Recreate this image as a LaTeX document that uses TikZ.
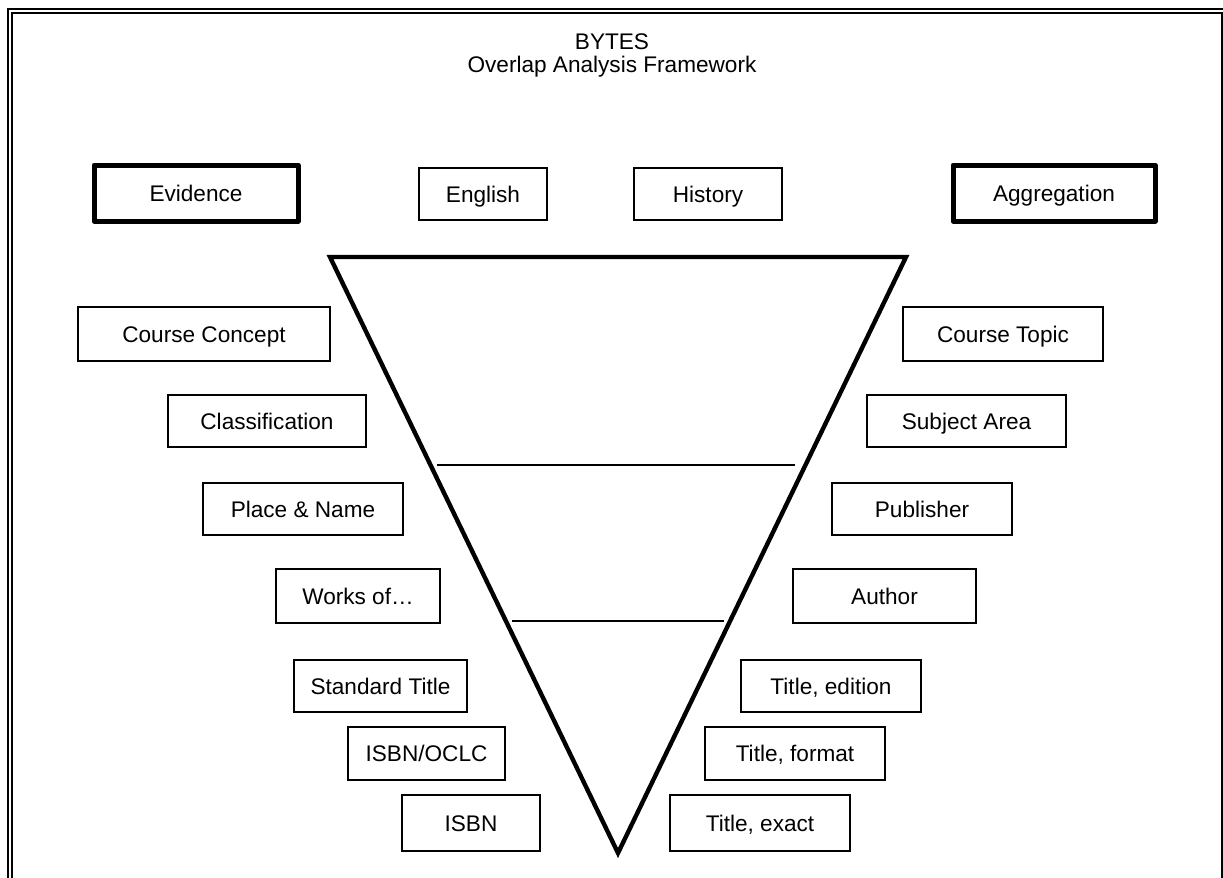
\documentclass[tikz,border=0pt]{standalone}
\usepackage{fontspec}
\setmainfont{Liberation Sans}
\usetikzlibrary{positioning}

\begin{document}
\begin{tikzpicture}[x=0.5pt, y=-0.5pt, font=\fontsize{11.3}{13.5}\selectfont,
    box/.style={draw, line width=1pt, inner sep=0pt, text height=9pt, text depth=0.9pt},
    keybox/.style={box, line width=2.5pt, line join=round}]
  \useasboundingbox (0,0) rectangle (1223,878);
  % Frame
  \draw[line width=1pt] (8,878) -- (8,9) -- (1223,9);
  \draw[line width=1pt] (12,878) -- (12,13) -- (1222,13) -- (1222,878);
  % Title
  \node (bytes) at (612,42) {BYTES};
  \node (subtitle) at (612,67) {Overlap Analysis Framework};
  % Top row
  \node[keybox, minimum width=102pt, minimum height=28pt] (evidence) at (196,193) {Evidence};
  \node[box, minimum width=64pt, minimum height=26pt] (english) at (483,194) {English};
  \node[box, minimum width=74pt, minimum height=26pt] (history) at (708,194) {History};
  \node[keybox, minimum width=101pt, minimum height=28pt] (aggregation) at (1054,193) {Aggregation};
  % Funnel
  \coordinate (ftl) at (330,257);
  \coordinate (ftr) at (906,257);
  \coordinate (ftip) at (618,853);
  \draw[line width=2.2pt] (ftl) -- (ftr) -- (ftip) -- cycle;
  \coordinate (upl) at (437,465);
  \coordinate (upr) at (795,465);
  \coordinate (lol) at (512,621);
  \coordinate (lor) at (724,621);
  \draw[line width=1pt] (upl) -- (upr);
  \draw[line width=1pt] (lol) -- (lor);
  % Evidence side
  \foreach \n/\x/\y/\w/\h/\t in {
      cconcept/204/334/252/54/{Course Concept},
      classif/267/421/198/52/{Classification},
      place/303/509/200/52/{Place \& Name},
      works/358/596/164/54/{Works of…},
      stdtitle/380.5/686/173/52/{Standard Title},
      isbnoclc/426.5/753.5/157/53/{ISBN/OCLC},
      isbn/471/823/138/56/{ISBN}} {
    \node[box, minimum width=\w*0.5pt, minimum height=\h*0.5pt] (\n) at (\x,\y) {\t};
  }
  % Aggregation side
  \foreach \n/\x/\y/\w/\h/\t in {
      ctopic/1003/334/200/54/{Course Topic},
      subject/966.5/421/199/52/{Subject Area},
      publisher/922/509/180/52/{Publisher},
      author/884.5/596/183/54/{Author},
      tedition/831/686/180/52/{Title, edition},
      tformat/795/753.5/180/53/{Title, format},
      texact/760/823/180/56/{Title, exact}} {
    \node[box, minimum width=\w*0.5pt, minimum height=\h*0.5pt] (\n) at (\x,\y) {\t};
  }
\end{tikzpicture}
\end{document}
